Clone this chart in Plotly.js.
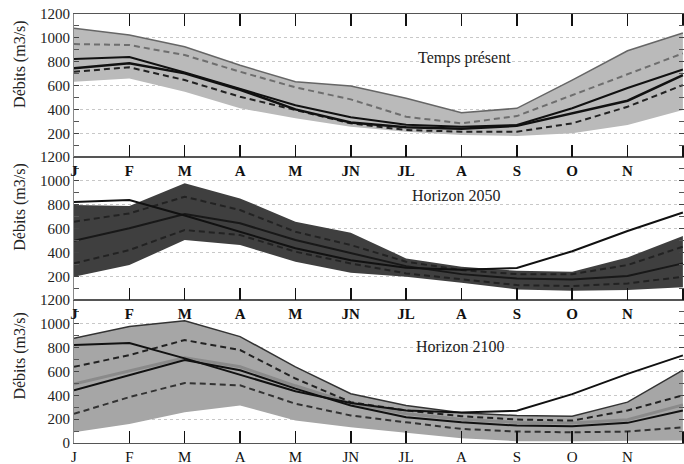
<!DOCTYPE html>
<html>
<head>
<meta charset="utf-8">
<script src="https://cdn.plot.ly/plotly-3.0.1.min.js"></script>
<style>html,body{margin:0;padding:0;background:#fff;overflow:hidden}#chart{width:684px;height:464px}</style>
</head>
<body>
<div id="chart"></div>
<script>
// Month positions and labels
const monthX = [1,2,3,4,5,6,7,8,9,10,11,12];
const monthLabels = ['J','F','M','A','M','JN','JL','A','S','O','N','D'];

// Observed present-day regime (black solid line, all panels)
const observed = [822, 840, 710, 575, 435, 335, 272, 255, 270, 410, 580, 735];

// Panel 1 : Temps présent
const presUpper = [1080, 1024, 926, 770, 632, 596, 493, 372, 409, 646, 892, 1040];
const presLower = [632, 660, 548, 409, 325, 255, 213, 185, 178, 199, 269, 395];
const presMedian = [744, 786, 702, 565, 400, 290, 250, 238, 262, 367, 473, 688];
const presDashHigh = [948, 940, 856, 716, 585, 484, 339, 283, 344, 520, 697, 870];
const presDashLow = [716, 753, 646, 506, 395, 283, 227, 213, 213, 283, 422, 604];

// Panel 2 : Horizon 2050
const h50Upper = [797, 789, 979, 853, 657, 565, 350, 280, 246, 238, 358, 537];
const h50Lower = [196, 294, 504, 462, 322, 229, 196, 145, 90, 78, 84, 107];
const h50Median = [498, 602, 722, 644, 504, 392, 285, 218, 182, 174, 202, 308];
const h50DashHigh = [657, 727, 867, 755, 573, 462, 322, 252, 218, 218, 294, 448];
const h50DashLow = [308, 420, 588, 546, 406, 308, 224, 174, 126, 118, 140, 196];

// Panel 3 : Horizon 2100
const h100Upper = [879, 977, 1025, 893, 639, 414, 315, 253, 231, 225, 343, 611];
const h100Lower = [90, 160, 259, 315, 188, 132, 85, 40, 15, 15, 15, 20];
const h100Median = [442, 569, 696, 611, 456, 315, 217, 174, 146, 140, 169, 273];
const h100Gray = [495, 605, 715, 640, 480, 335, 245, 200, 172, 168, 195, 320];
const h100DashHigh = [639, 738, 864, 780, 541, 343, 273, 225, 197, 188, 273, 400];
const h100DashLow = [245, 385, 504, 484, 330, 231, 174, 118, 96, 90, 96, 132];

const serif = 'Liberation Serif';
const dashP = '6px,4px';

function band(up, lo, color, xa, ya) {
  return {x: monthX.concat(monthX.slice().reverse()), y: up.concat(lo.slice().reverse()),
    mode:'lines', fill:'toself', fillcolor:color, line:{width:0}, xaxis:xa, yaxis:ya,
    hoverinfo:'skip', showlegend:false};
}
function line(y, color, width, dash, xa, ya) {
  return {x: monthX, y: y, mode:'lines', line:{color:color, width:width, dash:dash},
    xaxis:xa, yaxis:ya, hoverinfo:'skip', showlegend:false};
}

const traces = [
  // panel 1 (top)
  band(presUpper, presLower, '#bababa', 'x3', 'y3'),
  line(presUpper, '#666', 1.5, 'solid', 'x3', 'y3'),
  line(presDashHigh, '#6e6e6e', 2, dashP, 'x3', 'y3'),
  line(presDashLow, '#222', 2, dashP, 'x3', 'y3'),
  line(presMedian, '#111', 2.5, 'solid', 'x3', 'y3'),
  line(observed, '#111', 2, 'solid', 'x3', 'y3'),
  // panel 2
  band(h50Upper, h50Lower, '#3f3f3f', 'x2', 'y2'),
  line(h50DashHigh, '#222', 2, dashP, 'x2', 'y2'),
  line(h50DashLow, '#222', 2, dashP, 'x2', 'y2'),
  line(h50Median, '#181818', 2, 'solid', 'x2', 'y2'),
  line(observed, '#111', 2, 'solid', 'x2', 'y2'),
  // panel 3 (bottom)
  band(h100Upper, h100Lower, '#a6a6a6', 'x', 'y'),
  line(h100Upper, '#333', 1.5, 'solid', 'x', 'y'),
  line(h100Gray, '#8a8a8a', 3, 'solid', 'x', 'y'),
  line(h100DashHigh, '#222', 2, dashP, 'x', 'y'),
  line(h100DashLow, '#333', 2, dashP, 'x', 'y'),
  line(h100Median, '#111', 2, 'solid', 'x', 'y'),
  line(observed, '#111', 2, 'solid', 'x', 'y')
];

function xAxis(anchor, mirror, bold) {
  return {anchor:anchor, domain:[0,1], range:[1,12.02], tickmode:'array', tickvals:monthX, ticktext:monthLabels,
    ticks:'inside', ticklen:12, tickwidth:1.5, tickcolor:'#111', showline:true, linecolor:'#555', linewidth:1.2,
    mirror:mirror, showgrid:false, zeroline:false,
    tickfont:{family:serif, size:15, color:'#111', weight: bold ? 'bold' : 'normal'}};
}
function yAxis(domain, r) {
  return {domain:domain, range:r, tickmode:'linear', tick0:0, dtick:200, ticks:'inside', ticklen:5,
    tickcolor:'#444', showline:true, linecolor:'#888', linewidth:1, mirror:'allticks',
    showgrid:true, gridcolor:'#c8c8c8', griddash:'dot', gridwidth:1, zeroline:false,
    minor:{ticks:'inside', ticklen:5, dtick:100, tick0:0, tickcolor:'#555', showgrid:false},
    tickfont:{family:serif, size:15, color:'#222'}};
}

const ytitle = (y) => ({text:'Débits (m3/s)', xref:'paper', yref:'paper', x:-0.089, y:y,
  xanchor:'center', yanchor:'middle',
  textangle:-90, showarrow:false, font:{family:serif, size:16, color:'#222'}});

const layout = {
  width:684, height:464, margin:{l:74, r:0, t:14, b:21},
  paper_bgcolor:'#fff', plot_bgcolor:'#fff', showlegend:false,
  font:{family:serif},
  xaxis: xAxis('y', true, false),
  xaxis2: xAxis('y2', true, true),
  xaxis3: xAxis('y3', 'allticks', true),
  yaxis: yAxis([0, 0.3333], [0, 1200]),
  yaxis2: yAxis([0.3333, 0.6667], [1, 1200]),
  yaxis3: yAxis([0.6667, 1], [1, 1200]),
  annotations: [
    ytitle(0.883), ytitle(0.55), ytitle(0.203),
    {text:'Temps présent', xref:'x3', yref:'y3', x:8.05, y:828, showarrow:false, font:{family:serif, size:16, color:'#222'}},
    {text:'Horizon 2050', xref:'x2', yref:'y2', x:7.9, y:873, showarrow:false, font:{family:serif, size:16, color:'#222'}},
    {text:'Horizon 2100', xref:'x', yref:'y', x:7.98, y:808, showarrow:false, font:{family:serif, size:16, color:'#222'}}
  ]
};

Plotly.newPlot('chart', traces, layout, {displayModeBar:false, staticPlot:true});
</script>
</body>
</html>
